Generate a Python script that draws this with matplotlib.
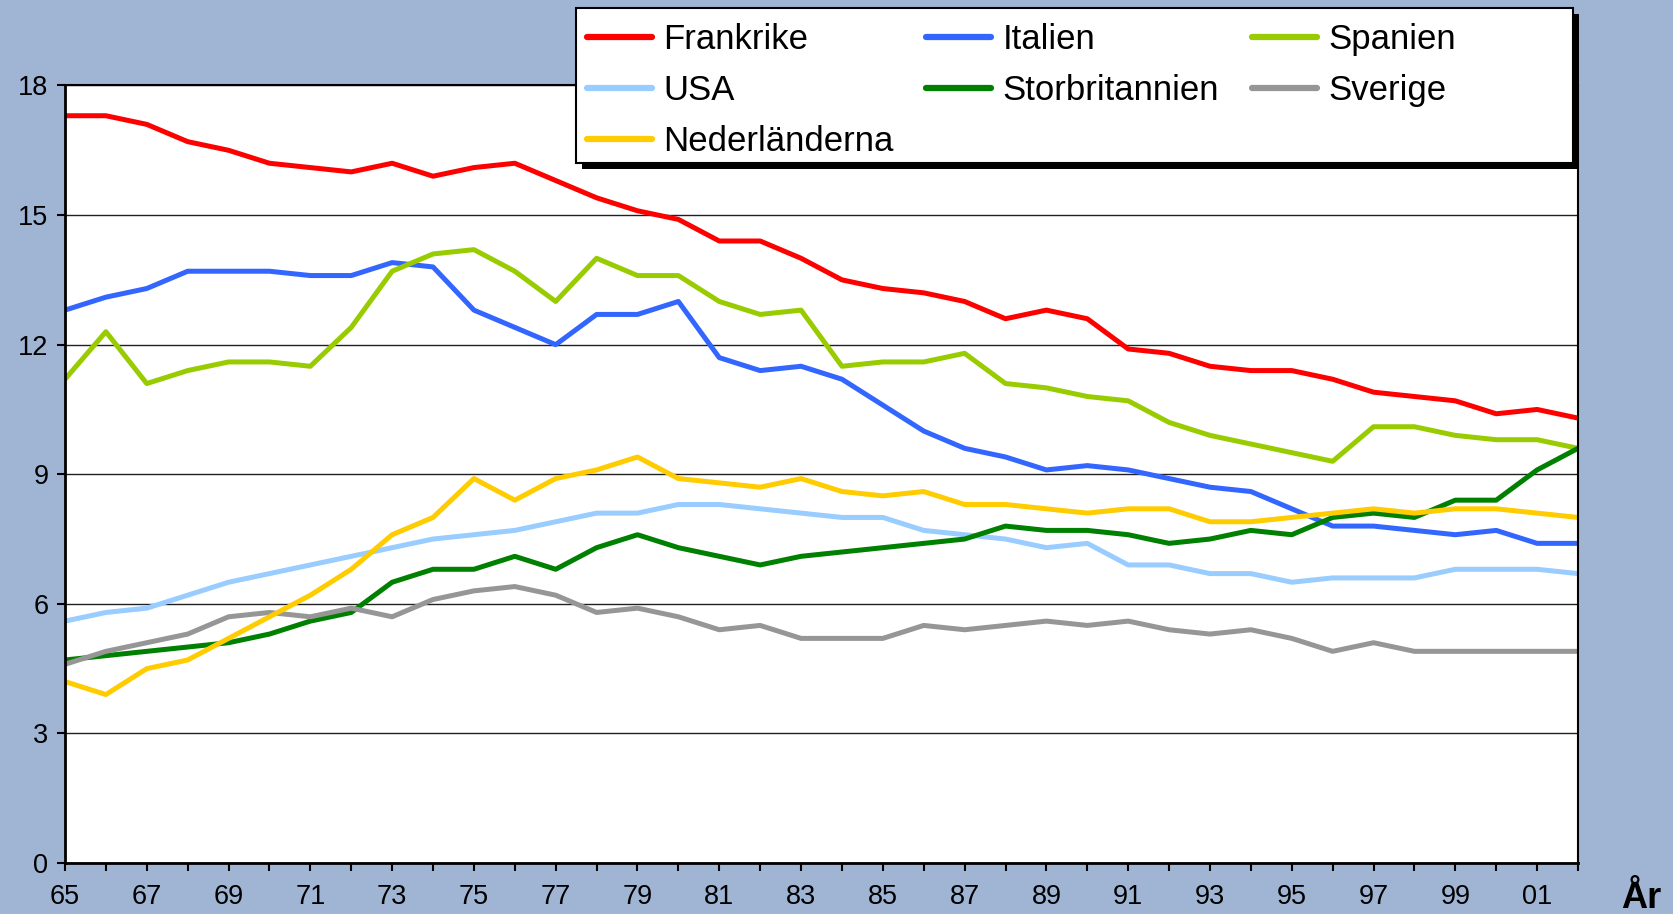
import matplotlib
matplotlib.use('Agg')
import matplotlib.pyplot as plt
from matplotlib.patches import Rectangle

plt.rcParams['font.family'] = ['Liberation Sans', 'DejaVu Sans']

years = list(range(1965, 2003))
year_labels = ['%02d' % (y % 100) if (y - 1965) % 2 == 0 else '' for y in years]

frankrike = [17.3, 17.3, 17.1, 16.7, 16.5, 16.2, 16.1, 16.0, 16.2, 15.9, 16.1, 16.2, 15.8,
             15.4, 15.1, 14.9, 14.4, 14.4, 14.0, 13.5, 13.3, 13.2, 13.0, 12.6, 12.8,
             12.6, 11.9, 11.8, 11.5, 11.4, 11.4, 11.2, 10.9, 10.8, 10.7, 10.4, 10.5, 10.3]
italien = [12.8, 13.1, 13.3, 13.7, 13.7, 13.7, 13.6, 13.6, 13.9, 13.8, 12.8, 12.4, 12.0,
           12.7, 12.7, 13.0, 11.7, 11.4, 11.5, 11.2, 10.6, 10.0, 9.6, 9.4, 9.1,
           9.2, 9.1, 8.9, 8.7, 8.6, 8.2, 7.8, 7.8, 7.7, 7.6, 7.7, 7.4, 7.4]
spanien = [11.2, 12.3, 11.1, 11.4, 11.6, 11.6, 11.5, 12.4, 13.7, 14.1, 14.2, 13.7, 13.0,
           14.0, 13.6, 13.6, 13.0, 12.7, 12.8, 11.5, 11.6, 11.6, 11.8, 11.1, 11.0,
           10.8, 10.7, 10.2, 9.9, 9.7, 9.5, 9.3, 10.1, 10.1, 9.9, 9.8, 9.8, 9.6]
usa = [5.6, 5.8, 5.9, 6.2, 6.5, 6.7, 6.9, 7.1, 7.3, 7.5, 7.6, 7.7, 7.9,
       8.1, 8.1, 8.3, 8.3, 8.2, 8.1, 8.0, 8.0, 7.7, 7.6, 7.5, 7.3,
       7.4, 6.9, 6.9, 6.7, 6.7, 6.5, 6.6, 6.6, 6.6, 6.8, 6.8, 6.8, 6.7]
storbritannien = [4.7, 4.8, 4.9, 5.0, 5.1, 5.3, 5.6, 5.8, 6.5, 6.8, 6.8, 7.1, 6.8,
                  7.3, 7.6, 7.3, 7.1, 6.9, 7.1, 7.2, 7.3, 7.4, 7.5, 7.8, 7.7,
                  7.7, 7.6, 7.4, 7.5, 7.7, 7.6, 8.0, 8.1, 8.0, 8.4, 8.4, 9.1, 9.6]
sverige = [4.6, 4.9, 5.1, 5.3, 5.7, 5.8, 5.7, 5.9, 5.7, 6.1, 6.3, 6.4, 6.2,
           5.8, 5.9, 5.7, 5.4, 5.5, 5.2, 5.2, 5.2, 5.5, 5.4, 5.5, 5.6,
           5.5, 5.6, 5.4, 5.3, 5.4, 5.2, 4.9, 5.1, 4.9, 4.9, 4.9, 4.9, 4.9]
nederlanderna = [4.2, 3.9, 4.5, 4.7, 5.2, 5.7, 6.2, 6.8, 7.6, 8.0, 8.9, 8.4, 8.9,
                 9.1, 9.4, 8.9, 8.8, 8.7, 8.9, 8.6, 8.5, 8.6, 8.3, 8.3, 8.2,
                 8.1, 8.2, 8.2, 7.9, 7.9, 8.0, 8.1, 8.2, 8.1, 8.2, 8.2, 8.1, 8.0]

names = ['Frankrike', 'Italien', 'Spanien', 'USA', 'Storbritannien', 'Sverige', 'Nederländerna']
values = [frankrike, italien, spanien, usa, storbritannien, sverige, nederlanderna]
colors = ['#FF0000', '#3366FF', '#99CC00', '#99CCFF', '#008000', '#969696', '#FFCC00']

W, H = 1673, 914
bg = '#A0B4D4'
fig = plt.figure(figsize=(W / 100, H / 100), dpi=100, facecolor=bg)
ax = fig.add_axes([65 / W, 1 - 863 / H, (1578 - 65) / W, (863 - 85.5) / H])
ax.set_facecolor('white')

lines = {}
for name, vals, c in zip(names, values, colors):
    ln, = ax.plot(years, vals, color=c, lw=3.6, solid_joinstyle='round',
                  solid_capstyle='round', label=name)
    lines[name] = ln

ax.set_xlim(1965, 2002)
ax.set_ylim(0, 18)
ax.set_yticks(range(0, 19, 3))
ax.set_xticks(years)
ax.set_xticklabels(year_labels)
ax.yaxis.grid(True, color='#202020', lw=1)
ax.set_axisbelow(True)
for s in ax.spines.values():
    s.set_color('black')
    s.set_linewidth(1.5)
ax.spines['left'].set_linewidth(2)
ax.spines['bottom'].set_linewidth(2)
ax.tick_params(axis='both', direction='out', length=6, width=1.5, labelsize=19.5, colors='black')
ax.tick_params(axis='y', pad=6)
ax.tick_params(axis='x', pad=9)

# legend frame with hard black shadow
lx, ly, lw_, lh = 576, 8, 997, 155
fig.add_artist(Rectangle(((lx + 6) / W, 1 - (ly + lh + 6) / H), lw_ / W, lh / H,
                         transform=fig.transFigure, facecolor='black', edgecolor='none', zorder=3))
fig.add_artist(Rectangle((lx / W, 1 - (ly + lh) / H), lw_ / W, lh / H,
                         transform=fig.transFigure, facecolor='white', edgecolor='black',
                         lw=1.5, zorder=4))

order = ['Frankrike', 'USA', 'Nederländerna', 'Italien', 'Storbritannien', 'Spanien', 'Sverige']
leg = fig.legend([lines[n] for n in order], order, loc='upper left', ncol=3,
                 bbox_to_anchor=(587 / W, 1 - 23 / H), bbox_transform=fig.transFigure,
                 frameon=False, fontsize=25, borderpad=0, borderaxespad=0,
                 handlelength=1.87, handletextpad=0.32, columnspacing=0.95,
                 labelspacing=0.52)
leg.set_zorder(5)
for h in leg.legend_handles:
    h.set_linewidth(4.5)

fig.text(1641 / W, 1 - 908 / H, 'År', fontsize=26, fontweight='bold', ha='center', va='baseline')

fig.savefig('out.png', dpi=100, facecolor=bg)
